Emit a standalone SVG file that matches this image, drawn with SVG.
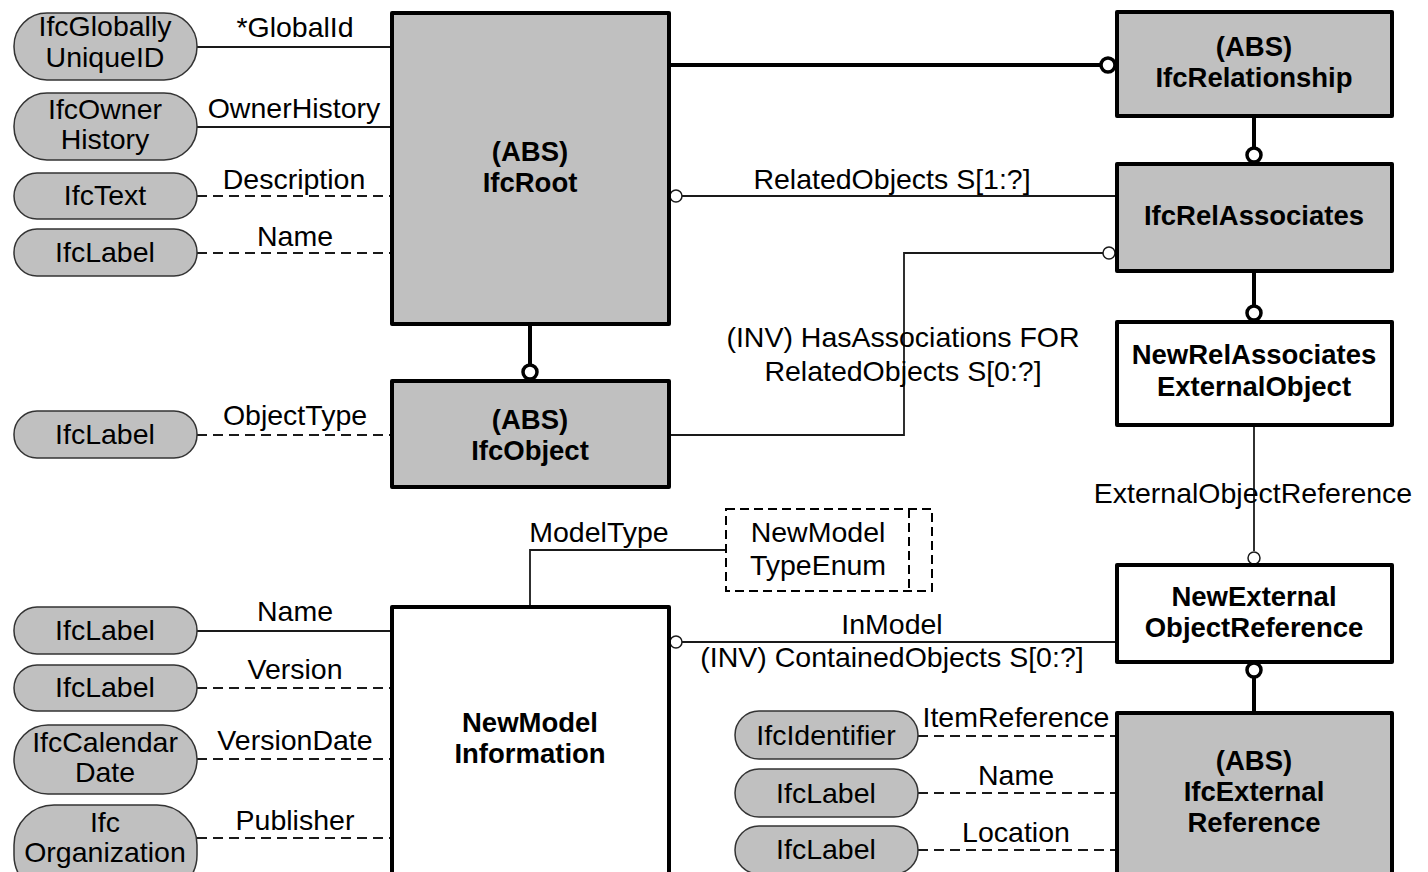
<svg xmlns="http://www.w3.org/2000/svg" width="1428" height="872" viewBox="0 0 1428 872">
  <style>
    .ent { fill: #c0c0c0; stroke: #000; stroke-width: 4; stroke-linejoin: round; }
    .entw { fill: #fff; stroke: #000; stroke-width: 4; stroke-linejoin: round; }
    .pill { fill: #c0c0c0; stroke: #333; stroke-width: 1.5; }
    .enum { fill: #fff; stroke: #000; stroke-width: 2; stroke-dasharray: 9 5; }
    .thin { fill: none; stroke: #1a1a1a; stroke-width: 1.8; }
    .dash { fill: none; stroke: #1a1a1a; stroke-width: 1.8; stroke-dasharray: 10 6; }
    .bold { fill: none; stroke: #000; stroke-width: 4; }
    .ringb { fill: #fff; stroke: #000; stroke-width: 3.5; }
    .ring { fill: #fff; stroke: #1a1a1a; stroke-width: 1.5; }
    text { font-family: "Liberation Sans", Arial, sans-serif; fill: #000; text-anchor: middle; }
    .t { font-size: 28.5px; }
    .b { font-size: 27.5px; font-weight: bold; }
  </style>

  <!-- connectors -->
  <g id="connectors">
    <!-- attribute links, left of IfcRoot -->
    <line class="thin" x1="197" y1="47" x2="392" y2="47"/>
    <line class="thin" x1="197" y1="127" x2="392" y2="127"/>
    <line class="dash" x1="197" y1="196" x2="392" y2="196"/>
    <line class="dash" x1="197" y1="253" x2="392" y2="253"/>
    <text class="t" x="295" y="37">*GlobalId</text>
    <text class="t" x="294" y="118">OwnerHistory</text>
    <text class="t" x="294" y="189">Description</text>
    <text class="t" x="295" y="246">Name</text>

    <!-- IfcObject attribute -->
    <line class="dash" x1="197" y1="435" x2="392" y2="435"/>
    <text class="t" x="295" y="425">ObjectType</text>

    <!-- NewModelInformation attributes -->
    <line class="thin" x1="197" y1="631" x2="392" y2="631"/>
    <line class="dash" x1="197" y1="688" x2="392" y2="688"/>
    <line class="dash" x1="197" y1="759" x2="392" y2="759"/>
    <line class="dash" x1="197" y1="838" x2="392" y2="838"/>
    <text class="t" x="295" y="621">Name</text>
    <text class="t" x="295" y="679">Version</text>
    <text class="t" x="295" y="750">VersionDate</text>
    <text class="t" x="295" y="830">Publisher</text>

    <!-- IfcExternalReference attributes -->
    <line class="dash" x1="918" y1="736" x2="1117" y2="736"/>
    <line class="dash" x1="918" y1="793" x2="1117" y2="793"/>
    <line class="dash" x1="918" y1="850" x2="1117" y2="850"/>
    <text class="t" x="1016" y="727">ItemReference</text>
    <text class="t" x="1016" y="785">Name</text>
    <text class="t" x="1016" y="842">Location</text>

    <!-- subtype links -->
    <line class="bold" x1="530" y1="324" x2="530" y2="365"/>
    <circle class="ringb" cx="530" cy="372" r="7"/>
    <line class="bold" x1="669" y1="65" x2="1101" y2="65"/>
    <circle class="ringb" cx="1108" cy="65" r="7"/>
    <line class="bold" x1="1254" y1="116" x2="1254" y2="148"/>
    <circle class="ringb" cx="1254" cy="155" r="7"/>
    <line class="bold" x1="1254" y1="271" x2="1254" y2="306"/>
    <circle class="ringb" cx="1254" cy="313" r="7"/>
    <circle class="ringb" cx="1254" cy="670" r="7"/>
    <line class="bold" x1="1254" y1="677" x2="1254" y2="713"/>

    <!-- RelatedObjects -->
    <circle class="ring" cx="676" cy="196" r="6"/>
    <line class="thin" x1="682" y1="196" x2="1117" y2="196"/>
    <text class="t" x="892" y="189">RelatedObjects S[1:?]</text>

    <!-- HasAssociations -->
    <polyline class="thin" points="669,435 904,435 904,253 1103,253"/>
    <circle class="ring" cx="1109" cy="253" r="6"/>
    <text class="t" x="903" y="347">(INV) HasAssociations FOR</text>
    <text class="t" x="903" y="381">RelatedObjects S[0:?]</text>

    <!-- ExternalObjectReference -->
    <line class="thin" x1="1254" y1="425" x2="1254" y2="551"/>
    <circle class="ring" cx="1254" cy="558" r="6"/>
    <text class="t" x="1253" y="503">ExternalObjectReference</text>

    <!-- ModelType -->
    <polyline class="thin" points="530,607 530,550 726,550"/>
    <text class="t" x="599" y="542">ModelType</text>

    <!-- InModel -->
    <circle class="ring" cx="676" cy="642" r="6"/>
    <line class="thin" x1="682" y1="642" x2="1117" y2="642"/>
    <text class="t" x="892" y="634">InModel</text>
    <text class="t" x="892" y="667">(INV) ContainedObjects S[0:?]</text>
  </g>

  <!-- defined types -->
  <g id="IfcGloballyUniqueID">
    <rect class="pill" x="14" y="13" width="183" height="67" rx="33" ry="33"/>
    <text class="t" x="105" y="36">IfcGlobally</text>
    <text class="t" x="105" y="67">UniqueID</text>
  </g>
  <g id="IfcOwnerHistory">
    <rect class="pill" x="14" y="93" width="183" height="67" rx="33" ry="33"/>
    <text class="t" x="105" y="119">IfcOwner</text>
    <text class="t" x="105" y="149">History</text>
  </g>
  <g id="IfcText">
    <rect class="pill" x="14" y="173" width="183" height="46" rx="23" ry="23"/>
    <text class="t" x="105" y="205">IfcText</text>
  </g>
  <g id="IfcLabel-root">
    <rect class="pill" x="14" y="229" width="183" height="47" rx="23" ry="23"/>
    <text class="t" x="105" y="262">IfcLabel</text>
  </g>
  <g id="IfcLabel-object">
    <rect class="pill" x="14" y="411" width="183" height="47" rx="23" ry="23"/>
    <text class="t" x="105" y="444">IfcLabel</text>
  </g>
  <g id="IfcLabel-name">
    <rect class="pill" x="14" y="607" width="183" height="47" rx="23" ry="23"/>
    <text class="t" x="105" y="640">IfcLabel</text>
  </g>
  <g id="IfcLabel-version">
    <rect class="pill" x="14" y="665" width="183" height="46" rx="23" ry="23"/>
    <text class="t" x="105" y="697">IfcLabel</text>
  </g>
  <g id="IfcCalendarDate">
    <rect class="pill" x="14" y="725" width="183" height="69" rx="34" ry="34"/>
    <text class="t" x="105" y="752">IfcCalendar</text>
    <text class="t" x="105" y="782">Date</text>
  </g>
  <g id="IfcOrganization">
    <rect class="pill" x="14" y="805" width="183" height="90" rx="40" ry="40"/>
    <text class="t" x="105" y="832">Ifc</text>
    <text class="t" x="105" y="862">Organization</text>
  </g>
  <g id="IfcIdentifier">
    <rect class="pill" x="735" y="711" width="183" height="48" rx="24" ry="24"/>
    <text class="t" x="826" y="745">IfcIdentifier</text>
  </g>
  <g id="IfcLabel-refname">
    <rect class="pill" x="735" y="769" width="183" height="48" rx="24" ry="24"/>
    <text class="t" x="826" y="803">IfcLabel</text>
  </g>
  <g id="IfcLabel-location">
    <rect class="pill" x="735" y="826" width="183" height="48" rx="24" ry="24"/>
    <text class="t" x="826" y="859">IfcLabel</text>
  </g>

  <!-- entities -->
  <g id="IfcRoot">
    <rect class="ent" x="392" y="13" width="277" height="311"/>
    <text class="b" x="530" y="161">(ABS)</text>
    <text class="b" x="530" y="192">IfcRoot</text>
  </g>
  <g id="IfcObject">
    <rect class="ent" x="392" y="381" width="277" height="106"/>
    <text class="b" x="530" y="429">(ABS)</text>
    <text class="b" x="530" y="460">IfcObject</text>
  </g>
  <g id="IfcRelationship">
    <rect class="ent" x="1117" y="12" width="275" height="104"/>
    <text class="b" x="1254" y="56">(ABS)</text>
    <text class="b" x="1254" y="87">IfcRelationship</text>
  </g>
  <g id="IfcRelAssociates">
    <rect class="ent" x="1117" y="164" width="275" height="107"/>
    <text class="b" x="1254" y="225">IfcRelAssociates</text>
  </g>
  <g id="NewRelAssociatesExternalObject">
    <rect class="entw" x="1117" y="322" width="275" height="103"/>
    <text class="b" x="1254" y="364">NewRelAssociates</text>
    <text class="b" x="1254" y="396">ExternalObject</text>
  </g>
  <g id="NewExternalObjectReference">
    <rect class="entw" x="1117" y="565" width="275" height="97"/>
    <text class="b" x="1254" y="606">NewExternal</text>
    <text class="b" x="1254" y="637">ObjectReference</text>
  </g>
  <g id="IfcExternalReference">
    <rect class="ent" x="1117" y="713" width="275" height="175"/>
    <text class="b" x="1254" y="770">(ABS)</text>
    <text class="b" x="1254" y="801">IfcExternal</text>
    <text class="b" x="1254" y="832">Reference</text>
  </g>
  <g id="NewModelInformation">
    <rect class="entw" x="392" y="607" width="277" height="280"/>
    <text class="b" x="530" y="732">NewModel</text>
    <text class="b" x="530" y="763">Information</text>
  </g>
  <g id="NewModelTypeEnum">
    <rect class="enum" x="726" y="509" width="206" height="82"/>
    <line class="enum" x1="909" y1="509" x2="909" y2="591"/>
    <text class="t" x="818" y="542">NewModel</text>
    <text class="t" x="818" y="575">TypeEnum</text>
  </g>
</svg>
